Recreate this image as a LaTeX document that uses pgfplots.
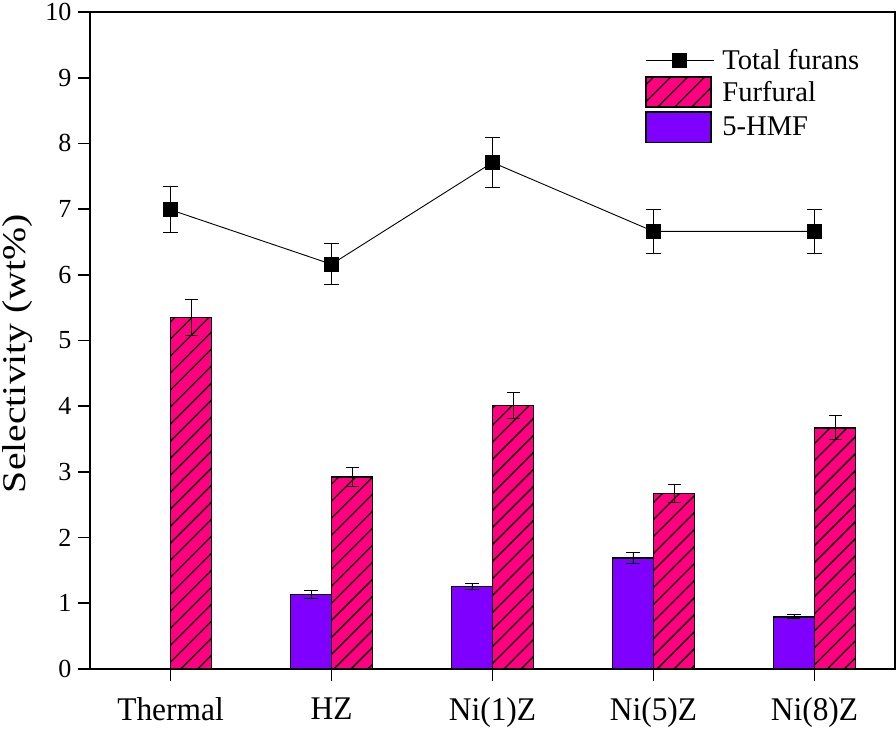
\documentclass[border=0pt]{standalone}
\usepackage{pgfplots}
\pgfplotsset{compat=1.18}
\usepackage{fontspec}
\setmainfont{Liberation Serif}
\usetikzlibrary{patterns.meta}
\definecolor{pinkc}{RGB}{255,0,128}
\definecolor{purplec}{RGB}{128,0,255}
\begin{document}
\begin{tikzpicture}
\begin{axis}[
  scale only axis,
  width=803pt, height=655pt,
  xmin=-0.5, xmax=4.5,
  ymin=0, ymax=10,
  xtick={0,1,2,3,4},
  xticklabels={\scalebox{0.95}[1]{Thermal},\scalebox{0.95}[1]{HZ},\scalebox{0.95}[1]{Ni(1)Z},\scalebox{0.95}[1]{Ni(5)Z},\scalebox{0.95}[1]{Ni(8)Z}},
  ytick={0,1,...,10},
  tick align=outside,
  xtick pos=bottom, ytick pos=left,
  major tick length=12pt,
  tick style={black, line width=1.6pt},
  axis line style={black, line width=2pt},
  /pgf/number format/assume math mode=true,
  yticklabel style={font=\fontsize{26}{30}\selectfont, xshift=-3pt},
  xticklabel style={font=\fontsize{33}{38}\selectfont, yshift=-13pt},
  ylabel={\scalebox{1.2}[1]{Selectivity (wt\%)}},
  ylabel style={font=\fontsize{33}{38}\selectfont, at={(axis description cs:-0.068,0.48)}, anchor=south, inner sep=2.5pt},
  legend style={draw=none, fill=none, at={(0.962,0.95)}, anchor=north east,
    font=\fontsize{28.5}{33}\selectfont, row sep=3.5pt,
    /tikz/every odd column/.append style={column sep=6pt}},
  legend cell align=left,
  reverse legend,
  legend image code/.code={\draw[#1, draw=black, line width=1.6pt] (0pt,-15pt) rectangle (65pt,15pt);},
  error bars/error bar style={black, line width=0.9pt},
]
\addplot[ybar, bar width=0.255, bar shift=0, fill=purplec, draw=black, line width=1.6pt,
  error bars/.cd, y dir=both, y explicit,
  error bar style={black, line width=0.9pt},
  error mark options={rotate=90, mark size=6.5pt, line width=0.9pt}]
  coordinates {(0.8725,1.13) +- (0,0.06) (1.8725,1.25) +- (0,0.05) (2.8725,1.69) +- (0,0.08) (3.8725,0.79) +- (0,0.03)};
\addlegendentry{5-HMF}
\addplot[ybar, bar width=0.255, bar shift=0, fill=pinkc, draw=black, line width=1.6pt,
  postaction={pattern={Lines[angle=45, distance=12pt, line width=1.3pt]}, pattern color=black},
  error bars/.cd, y dir=both, y explicit,
  error bar style={black, line width=0.9pt},
  error mark options={rotate=90, mark size=6.5pt, line width=0.9pt}]
  coordinates {(0.1275,5.35) +- (0,0.27) (1.1275,2.92) +- (0,0.14) (2.1275,4.01) +- (0,0.20) (3.1275,2.67) +- (0,0.14) (4.1275,3.67) +- (0,0.18)};
\addlegendentry{Furfural}
\addplot[black, line width=0.9pt, mark=square*, mark size=7pt,
  mark options={solid, fill=black},
  legend image code/.code={\draw[black, line width=0.9pt] (0pt,0pt) -- (68pt,0pt); \fill[black] (27pt,-7pt) rectangle (41pt,7pt);},
  error bars/.cd, y dir=both, y explicit,
  error mark options={rotate=90, mark size=7.5pt, line width=0.9pt}]
  coordinates {(0,6.99) +- (0,0.35) (1,6.16) +- (0,0.31) (2,7.71) +- (0,0.38) (3,6.66) +- (0,0.33) (4,6.66) +- (0,0.33)};
\addlegendentry{Total furans}
\end{axis}
\end{tikzpicture}
\end{document}
